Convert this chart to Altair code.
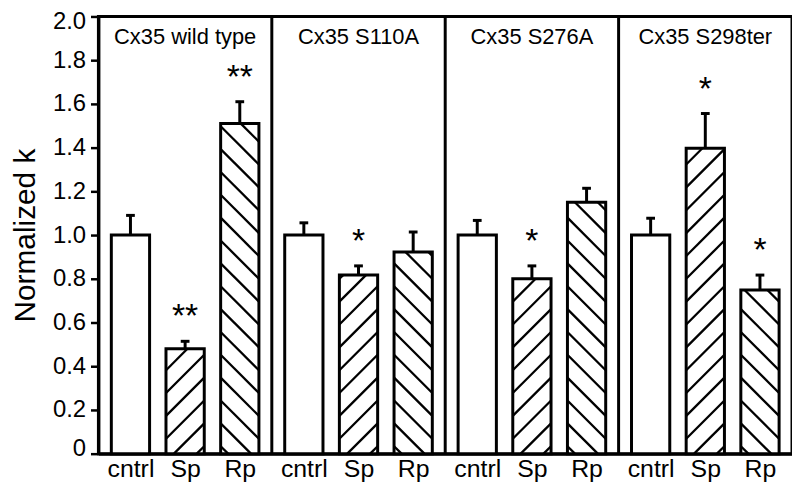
import altair as alt
import pandas as pd

# ---- data ----
panels = ["Cx35 wild type", "Cx35 S110A", "Cx35 S276A", "Cx35 S298ter"]
conditions = ["cntrl", "Sp", "Rp"]
hatch_kind = ["none", "/", "\\"]
means = [
    [1.00, 0.48, 1.51],
    [1.00, 0.817, 0.923],
    [1.00, 0.80, 1.15],
    [1.00, 1.397, 0.749],
]
err_tops = [
    [1.09, 0.514, 1.61],
    [1.056, 0.859, 1.014],
    [1.067, 0.859, 1.214],
    [1.077, 1.556, 0.817],
]
stars = [
    ["", "**", "**"],
    ["", "*", ""],
    ["", "*", ""],
    ["", "*", "*"],
]
y_ticks = [0, 0.2, 0.4, 0.6, 0.8, 1.0, 1.2, 1.4, 1.6, 1.8, 2.0]

rows = []
for p, panel in enumerate(panels):
    for i, cond in enumerate(conditions):
        rows.append(dict(panel=panel, p=p, cond=cond, i=i, mean=means[p][i],
                         top=err_tops[p][i], star=stars[p][i], hatch=hatch_kind[i]))
df = pd.DataFrame(rows)

# ---- geometry / style ----
W, H = 698, 440
XMIN = -0.586              # left edge of a panel, in slot units
PW = 3.172                 # panel width, in slot units
XMAX = XMIN + PW * len(panels)
BW = 0.70                  # bar width in slot units
CAP = 0.08                 # half cap width
KX = W / (XMAX - XMIN)
KY = H / 2.0
S = 23                     # hatch spacing (px, vertical)
FONT = "Liberation Sans"

x_tick_pos = [p * PW + i for p in range(len(panels)) for i in range(len(conditions))]

xscale = alt.Scale(domain=[XMIN, XMAX], nice=False, zero=False)
yscale = alt.Scale(domain=[0, 2.0], nice=False)
xaxis = alt.Axis(values=x_tick_pos,
                 labelExpr=f"['cntrl','Sp','Rp'][round((datum.value - ({XMIN})) % {PW} + ({XMIN}))]",
                 title=None, ticks=False, grid=False, labelFontSize=25,
                 labelColor="black", labelPadding=3, domainColor="black",
                 domainWidth=3, labelFont=FONT)
yaxis = alt.Axis(values=y_ticks,
                 labelExpr="datum.value == 0 ? '0' : format(datum.value, '.1f')",
                 title="Normalized k", titleFontSize=30, titleFontWeight="normal",
                 titleColor="black", titleFont=FONT, titlePadding=12,
                 grid=False, labelFontSize=24, labelColor="black", labelFont=FONT,
                 labelFlush=True, labelFlushOffset=7,
                 tickColor="black", tickWidth=2.5, tickSize=8, labelPadding=5,
                 domainColor="black", domainWidth=3)


def X(field):
    return alt.X(field, type="quantitative", scale=xscale, axis=xaxis)


def Y(field):
    return alt.Y(field, type="quantitative", scale=yscale, axis=yaxis)


base = alt.Chart().transform_calculate(
    xc=f"datum.p * {PW} + datum.i"
).transform_calculate(
    xa=f"datum.xc - {BW / 2}", xb=f"datum.xc + {BW / 2}",
    ca=f"datum.xc - {CAP}", cb=f"datum.xc + {CAP}"
)

bars_fill = base.mark_rect(fill="white", strokeWidth=0).encode(
    x=X("xa"), x2="xb", y=Y("mean"), y2=alt.datum(0)
)

hatch = (
    base.transform_filter("datum.hatch != 'none'")
    .transform_calculate(h=f"datum.mean * {KY}", w=f"{BW * KX}")
    .transform_calculate(k=f"sequence(-ceil(datum.w / {S}) - 1, ceil(datum.h / {S}) + 1)")
    .transform_flatten(["k"])
    .transform_calculate(c=f"datum.k * {S} - 8")
    .transform_calculate(umin="max(0, -datum.c)")
    .transform_calculate(umax="min(datum.w, datum.h - datum.c)")
    .transform_filter("datum.umin < datum.umax")
    .transform_calculate(
        ua="datum.hatch == '/' ? datum.umin : datum.w - datum.umin",
        ub="datum.hatch == '/' ? datum.umax : datum.w - datum.umax")
    .transform_calculate(
        hx1=f"datum.xa + datum.ua / {KX}",
        hx2=f"datum.xa + datum.ub / {KX}",
        hy1=f"(datum.umin + datum.c) / {KY}",
        hy2=f"(datum.umax + datum.c) / {KY}")
    .mark_rule(color="black", strokeWidth=2.3)
    .encode(x=X("hx1"), x2="hx2", y=Y("hy1"), y2="hy2")
)

bars_outline = base.mark_rect(fillOpacity=0, stroke="black", strokeWidth=3).encode(
    x=X("xa"), x2="xb", y=Y("mean"), y2=alt.datum(0)
)

err_v = base.mark_rule(color="black", strokeWidth=3).encode(
    x=X("xc"), y=Y("mean"), y2="top"
)
err_cap = base.mark_rule(color="black", strokeWidth=3).encode(
    x=X("ca"), x2="cb", y=Y("top")
)

star_text = base.transform_filter("datum.star != ''").mark_text(
    fontSize=34, font=FONT, color="black", baseline="alphabetic", dy=-14
).encode(x=X("xc"), y=Y("top"), text="star:N")

title_text = base.transform_filter("datum.i == 1").mark_text(
    fontSize=22, font=FONT, color="black", baseline="middle"
).encode(x=X("xc"), y=alt.value(21), text="panel:N")

dividers = base.transform_filter("datum.i == 0 && datum.p > 0").transform_calculate(
    xd=f"datum.p * {PW} + ({XMIN})"
).mark_rule(color="black", strokeWidth=3).encode(
    x=X("xd"), y=alt.value(0), y2=alt.value(H)
)

chart = (
    alt.layer(bars_fill, hatch, bars_outline, err_v, err_cap, star_text,
              title_text, dividers, data=df)
    .properties(width=W, height=H,
                padding={"left": 2, "top": 0, "right": 0, "bottom": 0})
    .configure(font=FONT, background="white")
    .configure_view(stroke="black", strokeWidth=3)
)

chart.save("out.html", embed_options={"renderer": "svg", "actions": False})
